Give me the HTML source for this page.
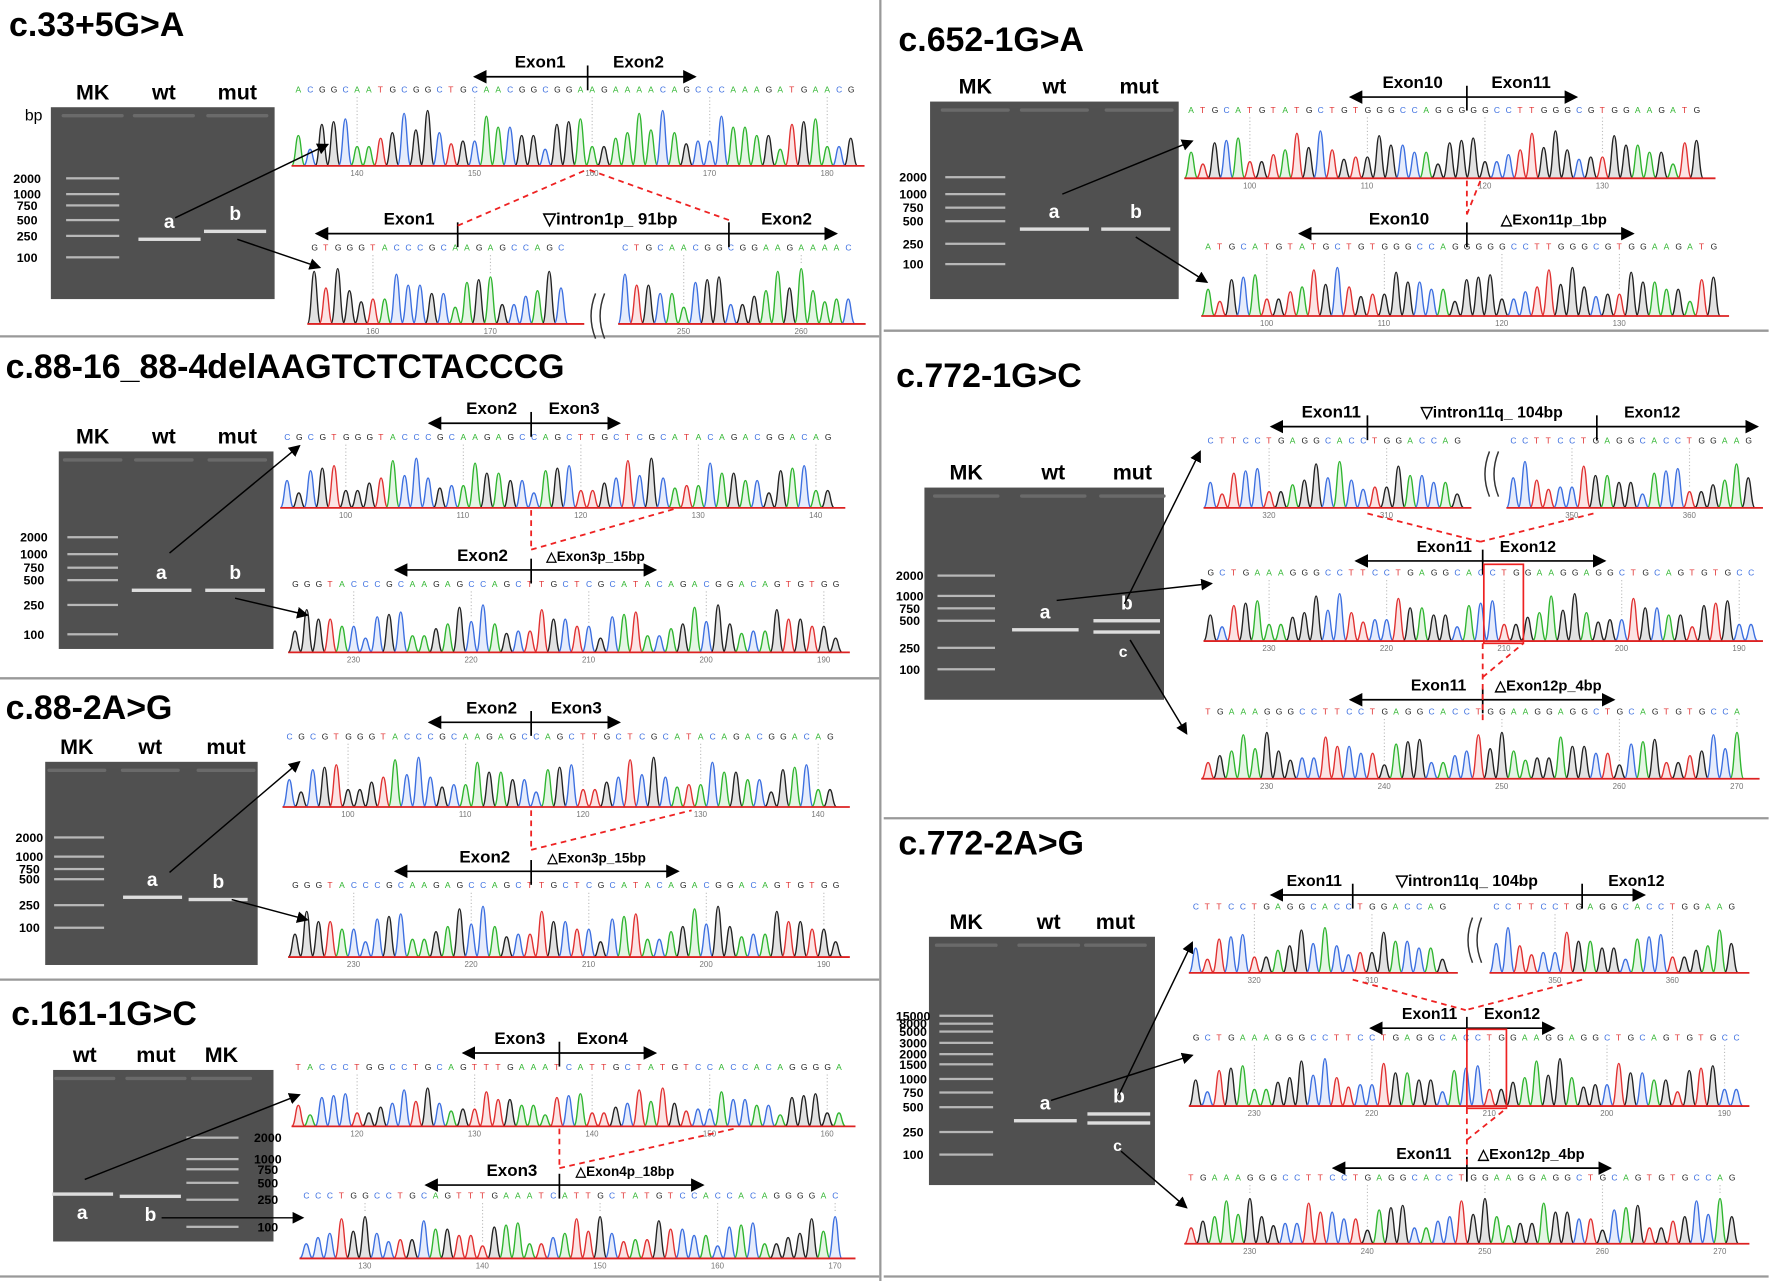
<!DOCTYPE html>
<html><head><meta charset="utf-8"><style>
html,body{margin:0;padding:0;background:#fff}
svg{display:block;font-family:"Liberation Sans",sans-serif}
</style></head><body>
<svg id="fig" width="1772" height="1281" viewBox="0 0 1568 1135" preserveAspectRatio="none" xmlns="http://www.w3.org/2000/svg">
<defs><marker id="ah" markerWidth="8" markerHeight="8" refX="7" refY="4" orient="auto"><path d="M0,0 L8,4 L0,8z" fill="#000"/></marker></defs>
<g id="frame" stroke="#999" stroke-width="2">
<line x1="779" y1="0" x2="779" y2="1135"/>
<line x1="0" y1="298" x2="778" y2="298"/><line x1="0" y1="601" x2="778" y2="601"/>
<line x1="0" y1="868" x2="778" y2="868"/><line x1="0" y1="1131" x2="778" y2="1131"/>
<line x1="782" y1="293" x2="1565" y2="293"/><line x1="782" y1="725" x2="1565" y2="725"/><line x1="782" y1="1131" x2="1565" y2="1131"/>
</g>
<g id="content"></g>
</svg>
<script>
const NS="http://www.w3.org/2000/svg";
const root=document.getElementById('content');
const heights=[0.55,0.8,0.35,0.95,0.6,0.45,0.7,0.3,0.85,0.5,0.65,0.4,0.9,0.55,0.75,0.35,0.6,1.0,0.45,0.7];
const seqs=["ACGGCAATGCGGCTGCAACGGCGGAAGAAAACAGCCCAAAGATGA","CGCGTGGGTACCCGCAAGAGCCAGCTTGCTCGCATACAGACGGACAGTGTGGT","ATGCATGTATGCTGTGGGCCAGGGGGCCTTGGGCGTGGAAG","GCTGAAAGGGCCTTCCTGAGGCACCTGGAAGGAGGCTGCAGTGTGCCAGTAGCCGTG","TACCCTGGCCTGCAGTTTGAAATCATTGCTATGTCCACCACAGGGGACAAG","CTTCCTGAGGCACCTGGACCAGGTCT"];
const titles=[["c.33+5G>A",8,32],["c.88-16_88-4delAAGTCTCTACCCG",5,335],["c.88-2A>G",5,637],["c.161-1G>C",10,908],["c.652-1G>A",795,45],["c.772-1G>C",793,343],["c.772-2A>G",795,757]];
const col={A:"#2fb52f",C:"#3c6fe0",G:"#222",T:"#e03030"};
function el(tag,attrs,parent){const e=document.createElementNS(NS,tag);for(const k in attrs)e.setAttribute(k,attrs[k]);(parent||root).appendChild(e);return e;}
function txt(x,y,s,size,opts,parent){const t=el('text',Object.assign({x:x,y:y,'font-size':size,'font-weight':'bold'},opts||{}),parent);t.textContent=s;return t;}
titles.forEach(t=>{const e=txt(t[1],t[2],t[0],30);});
function chromo(x1,x2,seqY,base,si,off,startNum,dir){
  const g=el('g',{});
  
  
  const seq=seqs[si];const step=10.4;const n=Math.floor((x2-x1-6)/step);const H=base-seqY-16;
  for(let i=0;i<n;i++){const b=seq[(i+off)%seq.length];const x=x1+6+i*step;const h=heights[(i*7+off)%heights.length]*H;
    el('path',{d:`M${x-6},${base} C${x-2.5},${base} ${x-2.5},${base-h} ${x},${base-h} C${x+2.5},${base-h} ${x+2.5},${base} ${x+6},${base}`,fill:col[b],'fill-opacity':0.13,stroke:col[b],'stroke-width':1.2},g);
    txt(x-2.5,seqY,b,7.5,{fill:col[b],'font-weight':'normal'},g);
    if(i%10==5){el('line',{x1:x,y1:seqY+4,x2:x,y2:base-h-3,stroke:'#bbb','stroke-dasharray':'1,2'},g);
      txt(x-6,base+9,String(startNum+dir*Math.floor(i/10)*10),7,{fill:'#777','font-weight':'normal'},g);}
  }
  el('line',{x1:x1,y1:base,x2:x2,y2:base,stroke:'#d22','stroke-width':1.6},g);
}
function arrowBar(y,xa,xb,ticks,labels){
  const g=el('g',{});
  
  
  const m=ticks[0];
  el('line',{x1:m,y1:y,x2:xa,y2:y,stroke:'#000','stroke-width':1.5,'marker-end':'url(#ah)'},g);
  el('line',{x1:ticks[ticks.length-1],y1:y,x2:xb,y2:y,stroke:'#000','stroke-width':1.5,'marker-end':'url(#ah)'},g);
  for(let i=0;i<ticks.length-1;i++)el('line',{x1:ticks[i],y1:y,x2:ticks[i+1],y2:y,stroke:'#000','stroke-width':1.5},g);
  ticks.forEach(t=>el('line',{x1:t,y1:y-10,x2:t,y2:y+12,stroke:'#000','stroke-width':1.5},g));
  labels.forEach(l=>txt(l[1],y-8,l[0],l[2]||15,{'text-anchor':'middle'},g));
}
function gel(x,y,w,h,lab,lx,sizes,sx,bands,mkx){
  const g=el('g',{});
  
  
  el('rect',{x:x,y:y,width:w,height:h,fill:'#505050'},g);
  lab.forEach((l,i)=>txt(lx[i],y-7,l,19,{'text-anchor':'middle'},g));
  const lw=w/3.6;
  lx.forEach(c=>el('rect',{x:c-lw/2,y:y+6,width:lw,height:3,rx:1.5,fill:'#6a6a6a'},g));
  sizes.forEach(s=>{txt(sx,s[1]+4,s[0],11,{'text-anchor':'middle'},g);el('rect',{x:mkx-lw/2+4,y:s[1]-1,width:lw-8,height:2,fill:'#b8b8b8'},g);});
  bands.forEach(b=>{el('rect',{x:b[0]-lw/2,y:b[1]-1.5,width:lw,height:3,fill:'#ddd'},g);if(b[2])txt(b[0]-5,b[1]+(b[3]||-10),b[2],17,{fill:'#fff'},g);});
}
function arr(x1,y1,x2,y2){el('line',{x1:x1,y1:y1,x2:x2,y2:y2,stroke:'#000','stroke-width':1.3,'marker-end':'url(#ah)'});}
function dash(x1,y1,x2,y2){el('line',{x1:x1,y1:y1,x2:x2,y2:y2,stroke:'#e22','stroke-width':1.6,'stroke-dasharray':'5,4'});}
function sq(x,y){el('path',{d:`M${x},${y} q-8,20 0,40 M${x+8},${y} q-8,20 0,40`,fill:'none',stroke:'#333','stroke-width':1.3});}
const L5=[["2000",158],["1000",172],["750",182],["500",195],["250",209],["100",228]];
txt(22,107,"bp",14,{'font-weight':'normal'});
gel(45,95,198,170,["MK","wt","mut"],[82,145,210],L5,24,[[150,212,"a"],[208,205,"b"]],82);
chromo(258,765,82,147,0,0,140,1);
arrowBar(68,420,615,[520],[["Exon1",478],["Exon2",565]]);
chromo(272,517,222,287,1,3,160,1);chromo(547,766,222,287,0,12,250,1);sq(527,260);
arrowBar(207,280,740,[405,645],[["Exon1",362],["\u25BDintron1p_ 91bp",540],["Exon2",696]]);
arr(155,193,290,128);arr(210,212,283,237);dash(405,200,520,150);dash(645,195,520,150);
const L2=[["2000",476],["1000",491],["750",503],["500",514],["250",536],["100",562]];
gel(52,400,190,175,["MK","wt","mut"],[82,145,210],L2,30,[[143,523,"a"],[208,523,"b"]],82);
chromo(248,748,390,450,1,0,100,1);arrowBar(375,380,548,[470],[["Exon2",435],["Exon3",508]]);
chromo(255,752,520,578,1,5,230,-1);arrowBar(505,350,580,[470],[["Exon2",427],["\u25B3Exon3p_15bp",527,12]]);
arr(150,490,265,395);arr(208,530,272,545);dash(470,452,470,487);dash(470,487,600,450);
const L3=[["2000",742],["1000",759],["750",770],["500",779],["250",802],["100",822]];
gel(40,675,188,180,["MK","wt","mut"],[68,133,200],L3,26,[[135,795,"a"],[193,797,"b"]],70);
chromo(250,752,655,715,1,0,100,1);arrowBar(640,380,548,[470],[["Exon2",435],["Exon3",510]]);
chromo(255,752,787,848,1,5,230,-1);arrowBar(772,350,600,[470],[["Exon2",429],["\u25B3Exon3p_15bp",528,12]]);
arr(150,773,265,675);arr(205,797,272,815);dash(470,718,470,753);dash(470,753,612,718);
const L4=[["2000",1008],["1000",1027],["750",1036],["500",1048],["250",1063],["100",1087]];
gel(47,948,195,152,["wt","mut","MK"],[75,138,196],L4,237,[[73,1058,"a",22],[133,1060,"b",22]],188);
chromo(258,757,948,998,4,0,120,1);arrowBar(933,410,580,[495],[["Exon3",460],["Exon4",533]]);
chromo(265,757,1062,1115,4,2,130,1);arrowBar(1050,377,622,[495],[["Exon3",453],["\u25B3Exon4p_18bp",553,12]]);
arr(75,1045,265,970);arr(143,1079,268,1079);dash(495,1000,495,1035);dash(495,1035,650,1000);
const L6=[["2000",157],["1000",172],["750",184],["500",196],["250",216],["100",234]];
gel(823,90,220,175,["MK","wt","mut"],[863,933,1008],L6,808,[[933,203,"a"],[1005,203,"b"]],863);
chromo(1048,1518,100,158,2,0,100,1);arrowBar(86,1195,1395,[1298],[["Exon10",1250],["Exon11",1346]]);
chromo(1063,1530,221,280,2,0,100,1);arrowBar(207,1150,1445,[1298],[["Exon10",1238],["\u25B3Exon11p_1bp",1375,13]]);
arr(940,172,1055,125);arr(1005,210,1068,250);dash(1298,160,1298,190);dash(1298,190,1310,160);
const L7=[["2000",510],["1000",528],["750",539],["500",550],["250",574],["100",593]];
gel(818,432,212,188,["MK","wt","mut"],[855,932,1002],L7,805,[[925,558,"a"],[997,550,"b"],[997,560,""]],855);
txt(990,582,"c",14,{fill:'#fff'});
chromo(1065,1302,393,450,5,0,320,-1);chromo(1333,1560,393,450,3,10,350,1);sq(1318,400);
arrowBar(378,1125,1555,[1210,1413],[["Exon11",1178],["\u25BDintron11q_ 104bp",1320,14],["Exon12",1462,14]]);
chromo(1065,1560,510,568,3,0,230,-1);arrowBar(497,1200,1420,[1312],[["Exon11",1278,14],["Exon12",1352,14]]);
el('rect',{x:1313,y:500,width:35,height:70,fill:'none',stroke:'#e22','stroke-width':1.5});
chromo(1063,1557,633,690,3,2,230,1);arrowBar(620,1195,1428,[1312],[["Exon11",1273,14],["\u25B3Exon12p_4bp",1370,13]]);
arr(935,532,1072,517);arr(995,535,1062,400);arr(1000,567,1050,650);
dash(1210,455,1310,480);dash(1410,455,1310,480);dash(1312,570,1312,640);dash(1312,600,1348,570);
const L8=[["15000",900],["8000",907],["5000",914],["3000",924],["2000",934],["1500",943],["1000",956],["750",968],["500",981],["250",1003],["100",1023]];
gel(822,830,200,220,["MK","wt","mut"],[855,928,987],L8,808,[[925,993,"a"],[990,987,"b"],[990,995,""]],855);
txt(985,1020,"c",14,{fill:'#fff'});
chromo(1052,1290,806,862,5,0,320,-1);chromo(1318,1548,806,862,3,10,350,1);sq(1303,813);
arrowBar(793,1125,1455,[1197,1400],[["Exon11",1163,14],["\u25BDintron11q_ 104bp",1298,14],["Exon12",1448,14]]);
chromo(1052,1548,922,980,3,0,230,-1);arrowBar(911,1213,1375,[1298],[["Exon11",1265,14],["Exon12",1338,14]]);
el('rect',{x:1298,y:912,width:35,height:70,fill:'none',stroke:'#e22','stroke-width':1.5});
chromo(1048,1548,1046,1102,3,2,230,1);arrowBar(1035,1180,1425,[1298],[["Exon11",1260,14],["\u25B3Exon12p_4bp",1355,13]]);
arr(930,975,1055,935);arr(990,970,1055,835);arr(992,1020,1050,1070);
dash(1197,868,1297,895);dash(1400,868,1297,895);dash(1298,982,1298,1035);dash(1298,1010,1333,982);
</script>
</body></html>
